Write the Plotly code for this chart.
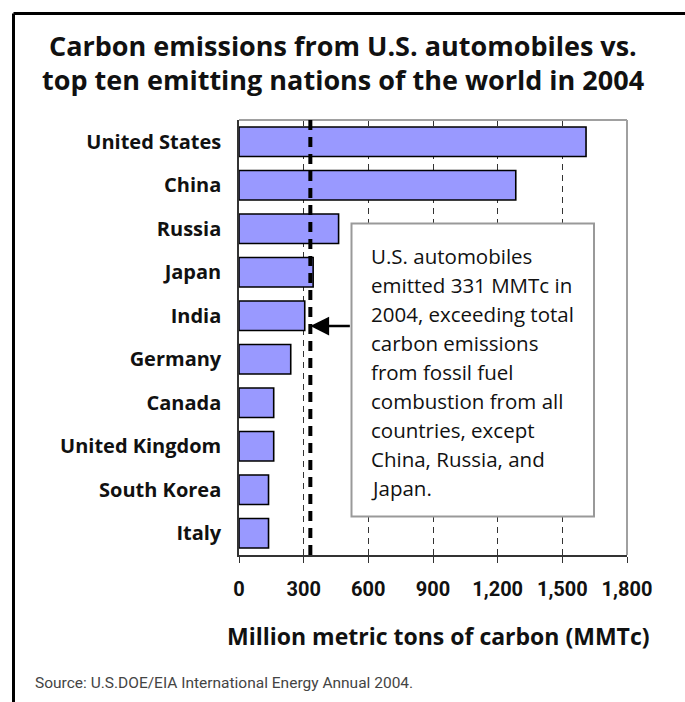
import plotly.graph_objects as go

# ---------------- data ----------------
countries = ["United States", "China", "Russia", "Japan", "India", "Germany",
             "Canada", "United Kingdom", "South Korea", "Italy"]
emissions = [1610, 1284, 462, 344, 305, 240, 161, 161, 137, 137]
auto_value = 331
x_ticks = [0, 300, 600, 900, 1200, 1500, 1800]
title_lines = ["Carbon emissions from U.S. automobiles vs.",
               "top ten emitting nations of the world in 2004"]
x_title = "Million metric tons of carbon (MMTc)"
note_lines = ["U.S. automobiles", "emitted 331 MMTc in", "2004, exceeding total",
              "carbon emissions", "from fossil fuel", "combustion from all",
              "countries, except", "China, Russia, and", "Japan."]
source = "Source: U.S.DOE/EIA International Energy Annual 2004."

# ---------------- layout geometry ----------------
W, H = 685, 702
L, R, T, B = 239, 58, 120, 147
FONT = "Open Sans"
NUMFONT = "Roboto"


def px_x(px):
    return (px - L) / (W - L - R)


def px_y(py):
    return (H - B - py) / (H - T - B)


fig = go.Figure()
fig.add_trace(go.Bar(
    y=countries, x=emissions, orientation="h",
    marker=dict(color="#9999ff", line=dict(color="#000000", width=1.6)),
    hoverinfo="x+y",
))

shapes = []
# outer frame (top + left)
shapes.append(dict(type="line", xref="paper", yref="paper",
                   x0=px_x(13.5), x1=px_x(690), y0=px_y(13.5), y1=px_y(13.5),
                   line=dict(color="black", width=3)))
shapes.append(dict(type="line", xref="paper", yref="paper",
                   x0=px_x(13.5), x1=px_x(13.5), y0=px_y(13.5), y1=px_y(710),
                   line=dict(color="black", width=3)))
# plot border top + right (grey)
shapes.append(dict(type="line", xref="paper", yref="paper",
                   x0=0, x1=1, y0=1, y1=1, line=dict(color="#a0a0a0", width=2)))
shapes.append(dict(type="line", xref="paper", yref="paper",
                   x0=1, x1=1, y0=0, y1=1, line=dict(color="#a0a0a0", width=2)))
# U.S. automobiles reference line
shapes.append(dict(type="line", xref="x", yref="paper",
                   x0=auto_value, x1=auto_value, y0=0, y1=1,
                   line=dict(color="black", width=4, dash="10px,7px")))
# note box
shapes.append(dict(type="rect", xref="paper", yref="paper",
                   x0=px_x(351.5), x1=px_x(594), y0=px_y(223.5), y1=px_y(516.5),
                   fillcolor="white", line=dict(color="#999999", width=2),
                   layer="above"))

annotations = []
for i, line in enumerate(note_lines):
    annotations.append(dict(text=line, xref="paper", yref="paper",
                            x=px_x(369), y=px_y(256 + 29 * i),
                            xanchor="left", yanchor="middle", showarrow=False,
                            font=dict(family=FONT, size=20.5, color="#111111")))
# arrow
annotations.append(dict(text="", xref="x", yref="paper",
                        x=auto_value, y=px_y(326), ax=41, ay=0,
                        showarrow=True, arrowhead=2, arrowsize=1.5,
                        arrowwidth=2.5, arrowcolor="black"))
# axis title
annotations.append(dict(text="<b>" + x_title + "</b>", xref="paper", yref="paper",
                        x=px_x(438.5), y=px_y(636), xanchor="center", yanchor="middle",
                        showarrow=False,
                        font=dict(family=FONT, size=23, color="#111111")))
# source
annotations.append(dict(text=source, xref="paper", yref="paper",
                        x=px_x(33), y=px_y(683), xanchor="left", yanchor="middle",
                        showarrow=False,
                        font=dict(family=NUMFONT, size=15.5, color="#444444")))
# title lines
for i, line in enumerate(title_lines):
    annotations.append(dict(text="<b>" + line + "</b>", xref="paper", yref="paper",
                            x=px_x(342.5), y=px_y(45 + 35 * i),
                            xanchor="center", yanchor="middle", showarrow=False,
                            font=dict(family=FONT, size=27, color="#111111")))

fig.update_layout(
    width=W, height=H,
    margin=dict(l=L, r=R, t=T, b=B, pad=0),
    paper_bgcolor="white", plot_bgcolor="white",
    showlegend=False,
    bargap=0.32,
    shapes=shapes, annotations=annotations,
    font=dict(family=FONT, color="#111111"),
    xaxis=dict(range=[0, 1800], tickvals=x_ticks, tickformat=",",
               showgrid=True, gridcolor="#333333", griddash="6px,5px", gridwidth=1,
               zeroline=False, showline=True, linecolor="#333333", linewidth=1.5,
               ticks="outside", ticklen=6, tickcolor="#333333", tickwidth=1.2,
               tickfont=dict(family=NUMFONT, size=20, color="#111111", weight="bold"),
               ticklabelstandoff=9, fixedrange=True),
    yaxis=dict(categoryorder="array", categoryarray=countries, autorange="reversed",
               showgrid=False, zeroline=False, showline=True,
               linecolor="#333333", linewidth=1.5, ticks="",
               tickfont=dict(family=FONT, size=20, color="#111111", weight="bold"),
               ticklabelstandoff=12, fixedrange=True),
)

fig.write_html("out.html")
